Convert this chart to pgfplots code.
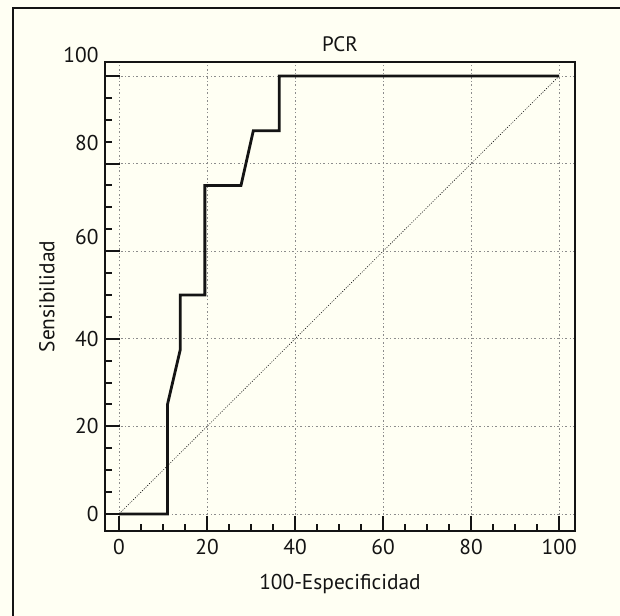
\documentclass[border=0pt]{standalone}
\usepackage{pgfplots}
\pgfplotsset{compat=1.18}
\usepackage{fontspec}
\setmainfont{PT Sans}
\definecolor{cream}{RGB}{255,255,243}
\definecolor{ink}{RGB}{20,20,20}
\begin{document}
\begin{tikzpicture}
\useasboundingbox (0bp,0bp) rectangle (620bp,616bp);
\fill[cream] (0bp,0bp) rectangle (620bp,616bp);
\draw[ink,line width=1.6bp] (13bp,-2bp) -- (13bp,608bp) -- (622bp,608bp);
\begin{axis}[
  at={(105bp,85bp)}, anchor=south west,
  scale only axis, width=470bp, height=469bp,
  xmin=-3.2, xmax=103.6, ymin=-3.9, ymax=103.2,
  axis line style={ink,line width=2.6bp},
  xtick={0,20,...,100}, ytick={0,20,...,100},
  yticklabels={0,20,40,\raisebox{28bp}{60},\raisebox{42bp}{80},\raisebox{42bp}{100}},
  minor x tick num=3, minor y tick num=3,
  tick align=inside, xtick pos=lower, ytick pos=left,
  major tick length=15bp, minor tick length=7bp,
  every tick/.style={ink,line width=2bp},
  grid=major,
  major grid style={gray!90, line width=0.7bp, dash pattern=on 2bp off 2.5bp on 0.8bp off 2.5bp},
  /pgf/number format/assume math mode=true,
  tick label style={font=\fontsize{21.5}{24}\selectfont, text=ink},
  xticklabel style={yshift=-5bp},
  yticklabel style={xshift=-3bp},
  title={PCR}, title style={font=\fontsize{21}{24}\selectfont, text=ink, yshift=1bp},
  xlabel={100-Especificidad}, ylabel={Sensibilidad},
  label style={font=\fontsize{21.5}{24}\selectfont, text=ink},
  xlabel style={yshift=-12bp},
  ylabel style={yshift=2bp},
  clip=false,
]
\addplot[ink, line width=0.6bp, dash pattern=on 1bp off 1.5bp] coordinates {(0,0) (100,100)};
\addplot[ink, line width=2.8bp, line join=miter] coordinates {
(0,0) (11,0) (11,25) (13.9,37.5) (13.9,50) (19.5,50) (19.5,75) (27.7,75) (30.5,87.5) (36.4,87.5) (36.4,100) (100,100)};
\end{axis}
\end{tikzpicture}
\end{document}
